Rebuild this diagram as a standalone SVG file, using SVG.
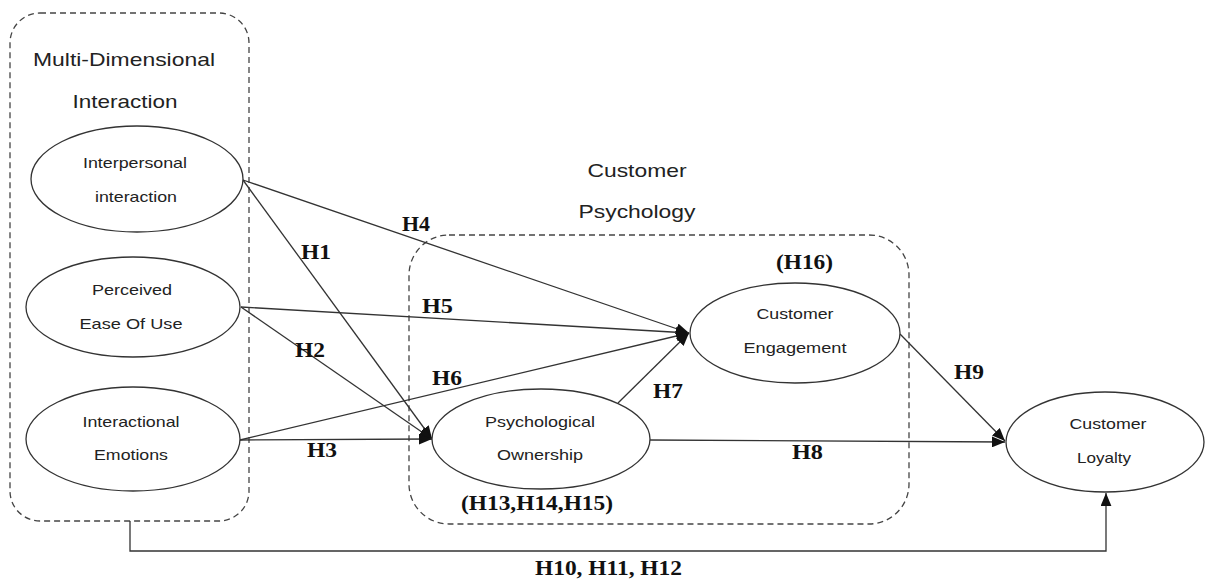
<svg xmlns="http://www.w3.org/2000/svg" width="1205" height="580" viewBox="0 0 1205 580">
<style>
.box{fill:none;stroke:#444;stroke-width:1.3;stroke-dasharray:6 4}
.node{fill:#fff;stroke:#333;stroke-width:1.3}
.edge{fill:none;stroke:#333;stroke-width:1.3}
.t{font-family:"Liberation Sans",Arial,sans-serif;fill:#222;text-anchor:middle}
.nt{font-size:15px}
.ht{font-size:19px}
.lb{font-family:"Liberation Serif","Times New Roman",serif;font-weight:bold;font-size:21px;fill:#111}
</style>
<defs>
<marker id="arr" viewBox="0 0 12 10" refX="12" refY="5" markerWidth="13" markerHeight="11" markerUnits="userSpaceOnUse" orient="auto">
<path d="M0,0 L12,5 L0,10 Z" fill="#111"/>
</marker>
</defs>
<rect fill="#fff" x="0" y="0" width="1205" height="580"/>
<g id="group-multi">
<rect class="box" x="10" y="13" width="239" height="508" rx="30"/>
<text class="t ht" x="124" y="66" textLength="182" lengthAdjust="spacingAndGlyphs">Multi-Dimensional</text>
<text class="t ht" x="125" y="108" textLength="105" lengthAdjust="spacingAndGlyphs">Interaction</text>
</g>
<g id="group-psych">
<rect class="box" x="409" y="235" width="500" height="289" rx="40"/>
<text class="t ht" x="637" y="177" textLength="99" lengthAdjust="spacingAndGlyphs">Customer</text>
<text class="t ht" x="637" y="218" textLength="117" lengthAdjust="spacingAndGlyphs">Psychology</text>
</g>
<g id="connectors">
<line class="edge" x1="243" y1="180" x2="432" y2="439" marker-end="url(#arr)"/>
<line class="edge" x1="243" y1="180" x2="689" y2="333" marker-end="url(#arr)"/>
<line class="edge" x1="241" y1="307" x2="689" y2="333" marker-end="url(#arr)"/>
<line class="edge" x1="241" y1="307" x2="432" y2="439" marker-end="url(#arr)"/>
<line class="edge" x1="240" y1="440" x2="689" y2="333" marker-end="url(#arr)"/>
<line class="edge" x1="240" y1="440" x2="432" y2="439" marker-end="url(#arr)"/>
<line class="edge" x1="618" y1="403" x2="689" y2="333" marker-end="url(#arr)"/>
<line class="edge" x1="650" y1="440" x2="1005" y2="442" marker-end="url(#arr)"/>
<line class="edge" x1="900" y1="334" x2="1005" y2="441" marker-end="url(#arr)"/>
<polyline class="edge" points="130,521 130,551 1106,551 1106,493" marker-end="url(#arr)"/>
<text class="lb" x="301" y="259" textLength="30" lengthAdjust="spacingAndGlyphs">H1</text>
<text class="lb" x="402" y="231" textLength="28" lengthAdjust="spacingAndGlyphs">H4</text>
<text class="lb" x="422" y="313" textLength="31" lengthAdjust="spacingAndGlyphs">H5</text>
<text class="lb" x="295" y="357" textLength="30" lengthAdjust="spacingAndGlyphs">H2</text>
<text class="lb" x="432" y="385" textLength="30" lengthAdjust="spacingAndGlyphs">H6</text>
<text class="lb" x="307" y="457" textLength="30" lengthAdjust="spacingAndGlyphs">H3</text>
<text class="lb" x="653" y="398" textLength="30" lengthAdjust="spacingAndGlyphs">H7</text>
<text class="lb" x="792" y="459" textLength="31" lengthAdjust="spacingAndGlyphs">H8</text>
<text class="lb" x="954" y="379" textLength="30" lengthAdjust="spacingAndGlyphs">H9</text>
<text class="lb" x="535" y="575" textLength="147" lengthAdjust="spacingAndGlyphs">H10, H11, H12</text>
</g>
<g id="node-interpersonal">
<ellipse class="node" cx="137" cy="179" rx="106" ry="53"/>
<text class="t nt" x="135" y="168" textLength="104" lengthAdjust="spacingAndGlyphs">Interpersonal</text>
<text class="t nt" x="136" y="202" textLength="82" lengthAdjust="spacingAndGlyphs">interaction</text>
</g>
<g id="node-ease">
<ellipse class="node" cx="133" cy="307" rx="107" ry="50"/>
<text class="t nt" x="132" y="295" textLength="80" lengthAdjust="spacingAndGlyphs">Perceived</text>
<text class="t nt" x="131" y="329" textLength="103" lengthAdjust="spacingAndGlyphs">Ease Of Use</text>
</g>
<g id="node-emotions">
<ellipse class="node" cx="133" cy="439" rx="107" ry="52"/>
<text class="t nt" x="131" y="427" textLength="97" lengthAdjust="spacingAndGlyphs">Interactional</text>
<text class="t nt" x="131" y="460" textLength="74" lengthAdjust="spacingAndGlyphs">Emotions</text>
</g>
<g id="node-ownership">
<ellipse class="node" cx="541" cy="439" rx="109" ry="50"/>
<text class="t nt" x="540" y="427" textLength="110" lengthAdjust="spacingAndGlyphs">Psychological</text>
<text class="t nt" x="540" y="460" textLength="86" lengthAdjust="spacingAndGlyphs">Ownership</text>
<text class="lb" x="461" y="510" textLength="152" lengthAdjust="spacingAndGlyphs">(H13,H14,H15)</text>
</g>
<g id="node-engagement">
<ellipse class="node" cx="795" cy="333" rx="105" ry="50"/>
<text class="t nt" x="795" y="319" textLength="77" lengthAdjust="spacingAndGlyphs">Customer</text>
<text class="t nt" x="795" y="353" textLength="103" lengthAdjust="spacingAndGlyphs">Engagement</text>
<text class="lb" x="776" y="269" textLength="57" lengthAdjust="spacingAndGlyphs">(H16)</text>
</g>
<g id="node-loyalty">
<ellipse class="node" cx="1105" cy="442" rx="99" ry="50"/>
<text class="t nt" x="1108" y="429" textLength="77" lengthAdjust="spacingAndGlyphs">Customer</text>
<text class="t nt" x="1104" y="463" textLength="54" lengthAdjust="spacingAndGlyphs">Loyalty</text>
</g>
</svg>
